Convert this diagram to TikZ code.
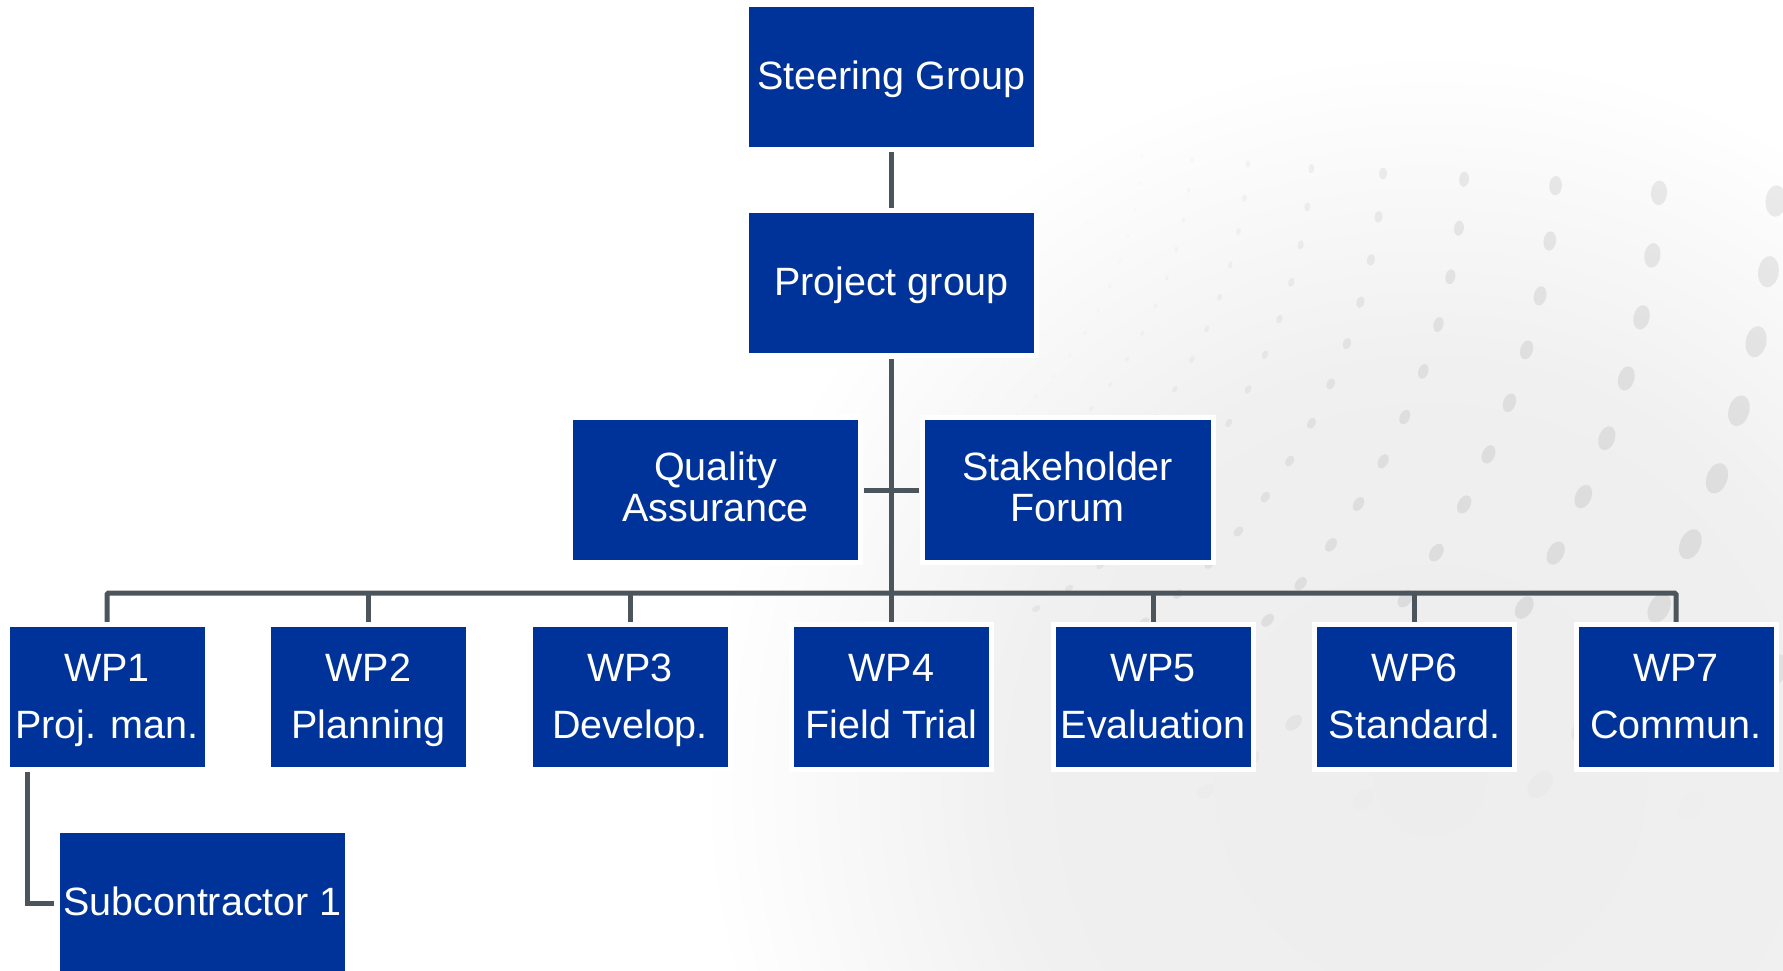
\documentclass[tikz,border=0pt]{standalone}
\usepackage{fontspec}
\setmainfont{Liberation Sans}
\usetikzlibrary{calc}
\definecolor{boxblue}{HTML}{003399}
\definecolor{linegray}{HTML}{4D555C}
\pgfdeclareradialshading{bgshade}{\pgfpoint{0bp}{0bp}}{color(0bp)=(black!7); color(14bp)=(black!6); color(25bp)=(white); color(50bp)=(white)}
\begin{document}
\begin{tikzpicture}[x=1pt,y=-1pt,
  box/.style={fill=boxblue, text=white, inner sep=0pt, minimum height=140pt, align=center,
    preaction={draw=white, line width=10pt}, font=\fontsize{39.5}{56.6}\selectfont},
  oneline/.style={text height=28.3pt, text depth=4pt},
  wpbox/.style={box, minimum width=195pt, text height=84.9pt, text depth=2.3pt},
  widebox/.style={box, minimum width=285.6pt},
  twoline/.style={font=\fontsize{39.5}{41.7}\selectfont, text height=70pt, text depth=6.6pt},
  conn/.style={draw=linegray, line width=5pt}
]
\useasboundingbox (0,0) rectangle (1783,970);
\clip (0,0) rectangle (1783,970);
\fill[white] (0,0) rectangle (1783,970);

% faint background texture
\shade[shading=bgshade] (1430,780) circle (730);
\coordinate (V) at (760,130);
\foreach \a in {4,8,...,60}{
  \foreach \k in {0,...,13}{
    \pgfmathsetmacro\r{300*1.13^\k}
    \pgfmathsetmacro\yy{130+\r*sin(\a)}
    \pgfmathsetmacro\s{min(17,0.00002*\r*\r)}
    \pgfmathsetmacro\sa{0.65*\s}
    \pgfmathsetmacro\o{0.075*min(1,max(0,(\r-280)/450))*max(0,min(1,(820-\yy)/180))}
    \fill[black, opacity=\o, shift={($(V)+(\a:\r)$)}, rotate=-\a]
      (0,0) ellipse [x radius=\sa pt, y radius=\s pt];
  }
}

% nodes
\node[widebox, oneline] (sg) at (891.5,77) {Steering Group};
\node[widebox, oneline] (pg) at (891.5,283) {Project group};
\node[widebox, twoline] (qa) at (715.5,490) {Quality\\Assurance};
\node[widebox, twoline] (sf) at (1067.7,490) {Stakeholder\\Forum};
\foreach \i/\t in {1/Proj. man.,2/Planning,3/Develop.,4/Field Trial,5/Evaluation,6/Standard.,7/Commun.}{
  \pgfmathsetmacro\xx{107+261.5*(\i-1)}
  \node[wpbox] (wp\i) at (\xx,697) {WP\i\\\t};
}
\node[widebox, oneline] (sub) at (202.5,903) {Subcontractor 1};

% connectors
\draw[conn, shorten <=5pt, shorten >=5pt] (sg.south) -- (pg.north);
\draw[conn, shorten <=6pt, shorten >=5pt] (pg.south) -- (wp4.north);
\draw[conn, shorten <=5.6pt, shorten >=6pt] (qa.east) -- (sf.west);
\coordinate (busL) at (107,593);
\draw[conn, rounded corners=1.5pt] ($(wp1.north)+(0,-5)$) -- (busL) -- (busL -| wp7.north) -- ($(wp7.north)+(0,-5)$);
\foreach \i in {2,3,5,6}{
  \draw[conn] (busL -| wp\i.north) -- ($(wp\i.north)+(0,-5)$);
}
\coordinate (subc) at (27,903);
\draw[conn] ($(wp1.south -| subc)+(0,5)$) -- (subc) -- ($(sub.west)+(-5.7,0)$);
\end{tikzpicture}
\end{document}
